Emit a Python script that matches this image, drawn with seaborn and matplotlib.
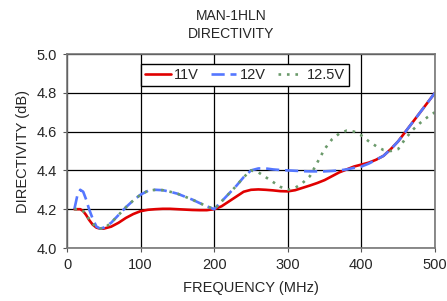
import pandas as pd
import matplotlib
matplotlib.use("Agg")
import matplotlib.pyplot as plt
import seaborn as sns

# Data (frequency in MHz, directivity in dB)
FREQ = [10, 14, 18, 22, 26, 30, 35, 40, 45, 50, 60, 70, 80, 90, 100,
        110, 120, 130, 140, 150, 160, 170, 180, 190, 200, 210, 220, 230,
        240, 250, 260, 270, 280, 290, 300, 310, 320, 330, 340, 350, 360,
        370, 380, 390, 400, 410, 420, 430, 440, 450, 460, 470, 480, 490, 500]

D_11V = [4.20, 4.20, 4.20, 4.19, 4.17, 4.145, 4.12, 4.105, 4.10, 4.10, 4.11,
         4.13, 4.155, 4.175, 4.19, 4.197, 4.20, 4.202, 4.202, 4.20, 4.198,
         4.196, 4.195, 4.195, 4.20, 4.215, 4.24, 4.265, 4.29, 4.30, 4.302,
         4.30, 4.297, 4.293, 4.292, 4.298, 4.31, 4.322, 4.335, 4.35, 4.37,
         4.39, 4.405, 4.42, 4.43, 4.44, 4.455, 4.475, 4.51, 4.55, 4.60,
         4.65, 4.70, 4.75, 4.80]

D_12V = [4.20, 4.27, 4.30, 4.29, 4.25, 4.20, 4.15, 4.11, 4.10, 4.105, 4.13,
         4.17, 4.21, 4.245, 4.275, 4.295, 4.30, 4.298, 4.29, 4.28, 4.265,
         4.25, 4.232, 4.215, 4.20, 4.24, 4.28, 4.32, 4.365, 4.40, 4.41,
         4.41, 4.405, 4.402, 4.40, 4.398, 4.396, 4.395, 4.395, 4.395, 4.397,
         4.40, 4.405, 4.413, 4.42, 4.435, 4.455, 4.475, 4.51, 4.55, 4.60,
         4.65, 4.70, 4.75, 4.80]

D_12_5V = [4.20, 4.20, 4.20, 4.19, 4.17, 4.15, 4.125, 4.105, 4.10, 4.10, 4.13,
           4.17, 4.21, 4.245, 4.275, 4.295, 4.30, 4.298, 4.29, 4.28, 4.265,
           4.25, 4.232, 4.215, 4.20, 4.24, 4.28, 4.32, 4.365, 4.40, 4.39,
           4.365, 4.34, 4.315, 4.30, 4.31, 4.335, 4.37, 4.44, 4.51, 4.56,
           4.59, 4.605, 4.60, 4.58, 4.55, 4.525, 4.505, 4.50, 4.51, 4.565,
           4.61, 4.645, 4.675, 4.70]

SERIES = ['11V', '12V', '12.5V']
COLORS = {'11V': '#E00000', '12V': '#5577FF', '12.5V': '#6B9A6B'}
DASHES = {'11V': '', '12V': (5, 2.2), '12.5V': (1.0, 2.2)}

X_TICKS = [0, 100, 200, 300, 400, 500]
Y_TICKS = [4.0, 4.2, 4.4, 4.6, 4.8, 5.0]

sns.set_style('white')
plt.rcParams['font.family'] = ['Liberation Sans', 'DejaVu Sans']

df = pd.concat([
    pd.DataFrame({'freq': FREQ, 'dir': vals, 'series': name})
    for name, vals in zip(SERIES, [D_11V, D_12V, D_12_5V])
])

fig = plt.figure(figsize=(4.47, 3.01), dpi=100)
ax = fig.add_axes([67 / 447, 53 / 301, 368 / 447, 194 / 301])

sns.lineplot(data=df, x='freq', y='dir', hue='series', style='series',
             hue_order=SERIES, style_order=SERIES, palette=COLORS,
             dashes=DASHES, linewidth=1.9, ax=ax, legend=True)

ax.set_xlim(0, 500)
ax.set_ylim(4.0, 5.0)
ax.set_xticks(X_TICKS)
ax.set_yticks(Y_TICKS)
ax.set_yticklabels([f'{v:.1f}' for v in Y_TICKS])
ax.grid(True, color='black', linewidth=0.9)
ax.set_axisbelow(True)
ax.tick_params(axis='both', which='both', labelsize=10.5, length=3,
               direction='out', color='#555555', pad=4, bottom=True, left=True)
for s in ax.spines.values():
    s.set_color('#777777')
    s.set_linewidth(1.2)

ax.set_xlabel('FREQUENCY (MHz)', fontsize=10.5, labelpad=7)
ax.set_ylabel('DIRECTIVITY (dB)', fontsize=10.5, labelpad=5)

fig.text(231 / 447, 1 - 16 / 301, 'MAN-1HLN', ha='center', va='center', fontsize=10)
fig.text(231 / 447, 1 - 34 / 301, 'DIRECTIVITY', ha='center', va='center', fontsize=10)

leg = ax.legend(loc='center', bbox_to_anchor=(0.484, 0.892), ncol=3,
                frameon=True, fancybox=False, framealpha=1, fontsize=10.5,
                handlelength=1.75, handletextpad=0.25, columnspacing=0.8,
                borderpad=0.3, borderaxespad=0)
leg.get_frame().set_edgecolor('black')
leg.get_frame().set_linewidth(1.0)

fig.savefig('out.png', dpi=100)
